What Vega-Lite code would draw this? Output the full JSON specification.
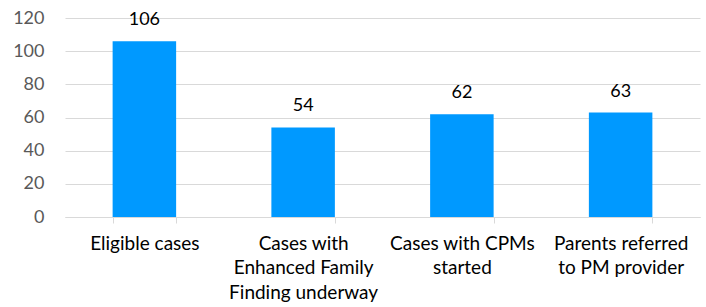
{
  "$schema": "https://vega.github.io/schema/vega-lite/v6.json",
  "autosize": {"type": "none"},
  "width": 635,
  "height": 199,
  "padding": {"left": 65, "top": 18, "right": 6, "bottom": 90},
  "background": "white",
  "config": {"view": {"stroke": null}, "font": "Lato"},
  "data": {
    "values": [
      {"category": "Eligible cases", "value": 106},
      {"category": "Cases with Enhanced Family Finding underway", "value": 54},
      {"category": "Cases with CPMs started", "value": 62},
      {"category": "Parents referred to PM provider", "value": 63}
    ]
  },
  "encoding": {
    "x": {
      "field": "category",
      "type": "nominal",
      "sort": null,
      "scale": {"paddingInner": 0.6, "paddingOuter": 0.3},
      "axis": {
        "title": null,
        "labelAngle": 0,
        "labelFont": "Lato",
        "labelFontSize": 19,
        "labelColor": "#000000",
        "labelPadding": 11,
        "labelLineHeight": 24.5,
        "labelBaseline": "top",
        "labelExpr": "datum.value == 'Cases with Enhanced Family Finding underway' ? ['Cases with', 'Enhanced Family', 'Finding underway'] : datum.value == 'Cases with CPMs started' ? ['Cases with CPMs', 'started'] : datum.value == 'Parents referred to PM provider' ? ['Parents referred', 'to PM provider'] : datum.value",
        "domainColor": "#d9d9d9",
        "tickColor": "#d9d9d9",
        "tickSize": 6,
        "tickBand": "extent",
        "grid": false
      }
    },
    "y": {
      "field": "value",
      "type": "quantitative",
      "scale": {"domain": [0, 120]},
      "axis": {
        "title": null,
        "values": [0, 20, 40, 60, 80, 100, 120],
        "labelFont": "Lato",
        "labelFontSize": 18,
        "labelColor": "#595959",
        "labelPadding": 21,
        "domain": false,
        "ticks": false,
        "gridColor": "#d9d9d9",
        "gridWidth": 1
      }
    }
  },
  "layer": [
    {"mark": {"type": "bar", "color": "#0099ff"}},
    {
      "mark": {"type": "text", "dy": -21, "fontSize": 18, "font": "Lato", "color": "#000000"},
      "encoding": {"text": {"field": "value", "type": "quantitative"}}
    }
  ]
}
